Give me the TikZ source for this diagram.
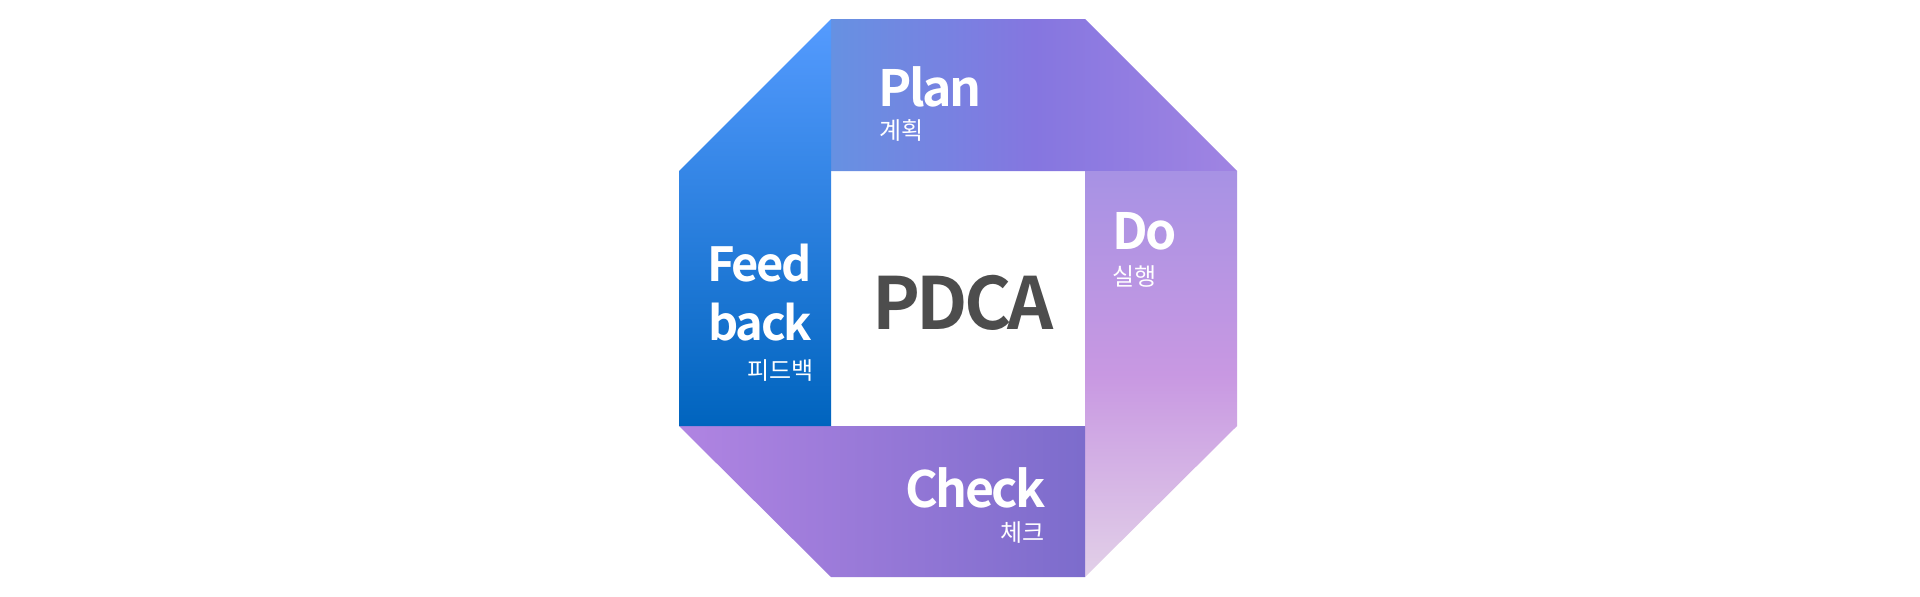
\documentclass[tikz,border=0pt]{standalone}
\usepackage{fontspec}
\newfontfamily\krfont{Noto Sans CJK KR}[BoldFont={Noto Sans CJK KR Bold}]
\newfontfamily\krtight{Noto Sans CJK KR Bold}[LetterSpace=-5]
\begin{document}
\begin{tikzpicture}[x=1pt,y=-1pt,
  title/.style={inner sep=0pt,text=white,font=\krtight\fontsize{50}{56}\selectfont},
  fbtitle/.style={inner sep=0pt,text=white,font=\krtight\fontsize{47}{56}\selectfont},
  sub/.style={inner sep=0pt,text=white,font=\krfont\fontsize{24}{28}\selectfont},
  center/.style={inner sep=0pt,text={rgb,255:red,77;green,77;blue,77},font=\krtight\fontsize{72}{80}\selectfont}]
\definecolor{planL}{RGB}{102,145,226}
\definecolor{planM}{RGB}{133,118,224}
\definecolor{planR}{RGB}{160,132,226}
\definecolor{doT}{RGB}{167,146,228}
\definecolor{doM}{RGB}{200,152,226}
\definecolor{doB}{RGB}{226,208,232}
\definecolor{chkL}{RGB}{176,132,226}
\definecolor{chkR}{RGB}{124,108,204}
\definecolor{fbT}{RGB}{85,155,255}
\definecolor{fbB}{RGB}{0,100,190}
\fill[white] (0,0) rectangle (1920,597);
\useasboundingbox (0,0) rectangle (1920,597);
% pieces
\shade[left color=planL,right color=planR,middle color=planM] (831,19) -- (1085,19) -- (1237,171) -- (831,171) -- cycle;
\shade[top color=doT,bottom color=doB,middle color=doM] (1085,171) -- (1237,171) -- (1237,426) -- (1085,577) -- cycle;
\shade[left color=chkL,right color=chkR] (679,426) -- (1085,426) -- (1085,577) -- (831,577) -- cycle;
\shade[top color=fbT,bottom color=fbB] (679,171) -- (831,19) -- (831,426) -- (679,426) -- cycle;
% texts
\node[title,anchor=base west] (plan) at (878,106) {Plan};
\node[sub,anchor=base west] (plankr) at (879,139) {계획};
\node[title,anchor=base west] (do) at (1112,249) {Do};
\node[sub,anchor=base west] (dokr) at (1112,285) {실행};
\node[title,anchor=base east] (check) at (1046,507) {Check};
\node[sub,anchor=base east] (checkkr) at (1045,541) {체크};
\node[fbtitle,anchor=base east] (feed) at (812,281) {Feed};
\node[fbtitle,anchor=base east] (back) at (812,340) {back};
\node[sub,anchor=base east] (fbkr) at (814,379) {피드백};
\node[center,anchor=base] (pdca) at (963,329) {PDCA};
\end{tikzpicture}
\end{document}
